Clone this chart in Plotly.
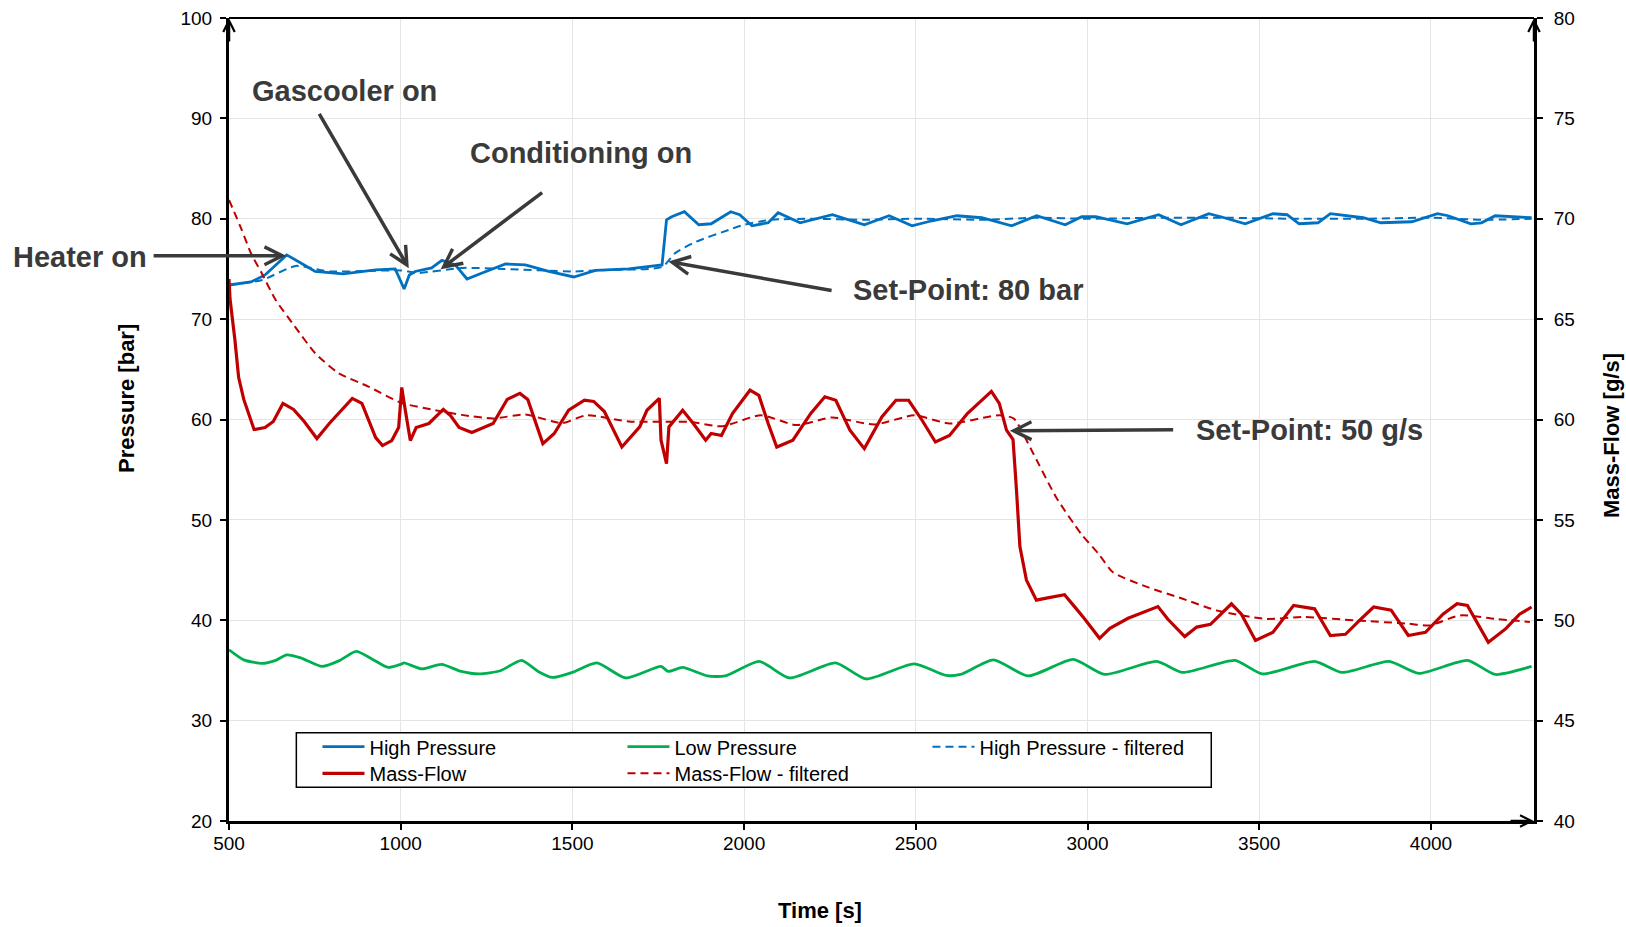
import plotly.graph_objects as go

# ---------------- data ----------------
hp_t = [500, 564, 605, 668, 719, 751, 832, 927, 984, 1010, 1025, 1042, 1090, 1120, 1159,
        1193, 1237, 1305, 1363, 1431, 1504, 1567, 1664, 1761, 1774, 1789, 1826, 1868, 1904,
        1961, 1987, 2023, 2070, 2099, 2163, 2257, 2350, 2422, 2489, 2547, 2620, 2692, 2779,
        2852, 2935, 2983, 3024, 3115, 3207, 3272, 3353, 3388, 3459, 3540, 3581, 3616, 3671,
        3707, 3803, 3854, 3944, 4019, 4050, 4116, 4147, 4187, 4293]
hp_v = [73.4, 73.7, 74.4, 76.4, 75.4, 74.75, 74.5, 74.9, 75.0, 73.0, 74.4, 74.75, 75.1, 75.85, 75.4,
        74.0, 74.6, 75.5, 75.4, 74.75, 74.2, 74.85, 75.0, 75.4, 79.9, 80.2, 80.7, 79.4, 79.5,
        80.7, 80.4, 79.3, 79.6, 80.6, 79.6, 80.4, 79.4, 80.3, 79.3, 79.8, 80.3, 80.1, 79.3,
        80.3, 79.4, 80.2, 80.2, 79.5, 80.4, 79.4, 80.5, 80.2, 79.5, 80.5, 80.4, 79.5, 79.6,
        80.5, 80.1, 79.6, 79.7, 80.5, 80.3, 79.5, 79.6, 80.3, 80.1]

hpf_t = [500, 597, 694, 791, 900, 1000, 1050, 1178, 1300, 1498, 1600, 1761, 1800, 1859, 1956,
         2000, 2080, 2200, 2350, 2500, 2700, 2850, 3000, 3200, 3400, 3600, 3800, 4000, 4150, 4293]
hpf_v = [73.4, 73.9, 75.3, 74.75, 74.8, 74.85, 74.6, 75.1, 75.0, 74.75, 74.9, 75.2, 76.6, 77.7, 78.9,
         79.4, 79.9, 80.0, 79.9, 80.0, 79.9, 80.1, 80.0, 80.1, 80.1, 80.0, 80.0, 80.1, 79.9, 80.0]

lp_t = [500, 543, 595, 636, 668, 709, 771, 823, 870, 916, 963, 1003, 1010, 1062, 1119, 1176,
        1228, 1290, 1352, 1400, 1442, 1499, 1571, 1655, 1758, 1779, 1821, 1893, 1945, 2044,
        2132, 2266, 2355, 2495, 2588, 2630, 2726, 2827, 2958, 3050, 3201, 3277, 3429, 3509,
        3661, 3741, 3878, 3964, 4106, 4187, 4293]
lp_v = [37.05, 36.05, 35.7, 36.0, 36.55, 36.25, 35.4, 36.0, 36.9, 36.15, 35.3, 35.65, 35.75, 35.15, 35.6, 34.9,
        34.65, 34.97, 36.0, 34.9, 34.3, 34.8, 35.75, 34.25, 35.4, 34.9, 35.3, 34.45, 34.45, 35.9,
        34.25, 35.75, 34.15, 35.65, 34.5, 34.6, 36.05, 34.45, 36.1, 34.6, 35.9, 34.8, 36.0, 34.65,
        35.9, 34.8, 35.9, 34.7, 36.0, 34.6, 35.4]

mf_t = [500, 503, 517, 528, 543, 564, 573, 605, 629, 657, 688, 719, 756, 792, 859, 887, 927,
        947, 974, 994, 1003, 1013, 1028, 1045, 1082, 1124, 1145, 1170, 1207, 1269, 1310, 1347,
        1370, 1414, 1447, 1489, 1535, 1562, 1593, 1644, 1696, 1717, 1753, 1758, 1774, 1781,
        1821, 1852, 1888, 1904, 1934, 1966, 2017, 2043, 2070, 2095, 2142, 2194, 2235, 2267,
        2308, 2350, 2401, 2442, 2479, 2515, 2557, 2598, 2650, 2720, 2743, 2764, 2783, 2793,
        2803, 2822, 2851, 2880, 2933, 2962, 2990, 3035, 3065, 3118, 3205, 3234, 3283, 3318,
        3358, 3419, 3448, 3489, 3540, 3600, 3661, 3707, 3751, 3792, 3833, 3884, 3934, 3984,
        4035, 4076, 4106, 4167, 4218, 4258, 4293]
mf_v = [67.0, 66.0, 64.0, 62.1, 61.0, 59.9, 59.5, 59.6, 59.9, 60.8, 60.5, 59.9, 59.05, 59.8, 61.05, 60.8, 59.1,
        58.7, 58.95, 59.6, 61.6, 60.5, 58.95, 59.6, 59.8, 60.5, 60.2, 59.6, 59.35, 59.8, 61.0, 61.3,
        61.0, 58.8, 59.3, 60.46, 60.96, 60.9, 60.4, 58.63, 59.63, 60.46, 61.05, 58.97, 57.8, 59.63,
        60.46, 59.8, 58.97, 59.3, 59.2, 60.3, 61.46, 61.2, 59.8, 58.63, 58.97, 60.3, 61.13, 60.96,
        59.47, 58.55, 60.13, 60.96, 60.96, 60.05, 58.88, 59.2, 60.3, 61.4, 60.8, 59.47, 59.0, 56.5,
        53.67, 52.0, 51.0, 51.1, 51.27, 50.68, 50.1, 49.1, 49.6, 50.1, 50.68, 50.05, 49.19, 49.66,
        49.8, 50.82, 50.3, 48.99, 49.4, 50.74, 50.57, 49.24, 49.3, 49.99, 50.66, 50.5, 49.24, 49.4,
        50.3, 50.82, 50.74, 48.9, 49.58, 50.3, 50.66]

mff_t = [500, 537, 564, 595, 636, 692, 751, 819, 906, 1003, 1090, 1178, 1269, 1362, 1470,
         1541, 1664, 1841, 1934, 2049, 2152, 2256, 2380, 2495, 2598, 2743, 2785, 2837, 2908,
         2981, 3032, 3074, 3175, 3277, 3378, 3519, 3629, 3781, 3934, 3994, 4085, 4187, 4288]
mff_v = [70.94, 69.45, 68.28, 67.3, 65.95, 64.63, 63.3, 62.31, 61.64, 60.82, 60.5, 60.23, 60.05, 60.25, 59.82,
         60.21, 59.9, 59.88, 59.66, 60.21, 59.72, 60.1, 59.75, 60.21, 59.8, 60.21, 60.05, 58.47, 56.14,
         54.31, 53.31, 52.39, 51.65, 51.07, 50.48, 50.07, 50.16, 49.99, 49.83, 49.74, 50.24, 50.07, 49.91]

x_ticks = [500, 1000, 1500, 2000, 2500, 3000, 3500, 4000]
y_left_ticks = [20, 30, 40, 50, 60, 70, 80, 90, 100]
y_right_ticks = [40, 45, 50, 55, 60, 65, 70, 75, 80]

BLUE = "#0070C0"
GREEN = "#00B050"
RED = "#C00000"
ANN = "#3a3a3a"
FONT = "Arial, Liberation Sans, sans-serif"

fig = go.Figure()
fig.add_trace(go.Scatter(x=hp_t, y=hp_v, name="High Pressure", mode="lines",
                         line=dict(color=BLUE, width=2.8), legend="legend"))
fig.add_trace(go.Scatter(x=lp_t, y=lp_v, name="Low Pressure", mode="lines",
                         line=dict(color=GREEN, width=2.8, shape="spline", smoothing=0.6), legend="legend"))
fig.add_trace(go.Scatter(x=hpf_t, y=hpf_v, name="High Pressure - filtered", mode="lines",
                         line=dict(color=BLUE, width=2, dash="8px,5px", shape="spline", smoothing=0.6),
                         legend="legend"))
fig.add_trace(go.Scatter(x=mf_t, y=mf_v, name="Mass-Flow", mode="lines", yaxis="y2",
                         line=dict(color=RED, width=3.2), legend="legend2"))
fig.add_trace(go.Scatter(x=mff_t, y=mff_v, name="Mass-Flow - filtered", mode="lines", yaxis="y2",
                         line=dict(color=RED, width=2, dash="8px,5px", shape="spline", smoothing=0.6),
                         legend="legend2"))

axis_common = dict(showline=True, linecolor="black", linewidth=3, ticks="outside",
                   ticklen=6, tickwidth=2, tickcolor="black", zeroline=False, automargin=False,
                   tickfont=dict(size=19, color="black", family=FONT))

legend_common = dict(orientation="h", xanchor="left", yanchor="middle",
                     bgcolor="rgba(0,0,0,0)", borderwidth=0, itemwidth=42,
                     entrywidth=248, entrywidthmode="pixels",
                     font=dict(size=20, color="black", family=FONT), traceorder="normal")

fig.update_layout(
    width=1626, height=927,
    margin=dict(l=229, r=92, t=18, b=106, autoexpand=False),
    paper_bgcolor="white", plot_bgcolor="white",
    font=dict(family=FONT, color="black"),
    xaxis=dict(range=[500, 4300], tickvals=x_ticks, showgrid=True, gridcolor="#e4e4e4",
               gridwidth=1.2, ticklabelstandoff=-3, **axis_common),
    yaxis=dict(range=[20, 100], tickvals=y_left_ticks, showgrid=True, gridcolor="#e4e4e4",
               gridwidth=1.2, ticklabelstandoff=4, **axis_common),
    yaxis2=dict(range=[40, 80], tickvals=y_right_ticks, overlaying="y", side="right",
                showgrid=False, ticklabelstandoff=7, **axis_common),
    legend=dict(x=0.0678, y=0.0925, **legend_common),
    legend2=dict(x=0.0678, y=0.0594, **legend_common),
    showlegend=True,
)

# legend frame and top border
fig.add_shape(type="rect", xref="paper", yref="paper", x0=0.0516, x1=0.7527, y0=0.042, y1=0.110,
              line=dict(color="black", width=1.5), fillcolor="white", layer="above")
fig.add_shape(type="line", xref="paper", yref="paper", x0=0, x1=1, y0=1, y1=1,
              line=dict(color="black", width=2))

annotations = []
title_font = dict(size=22, color="black", family=FONT, weight="bold")
# axis titles
annotations.append(dict(text="Pressure [bar]", xref="paper", yref="paper", x=-0.0782, y=0.5268,
                        xanchor="center", yanchor="middle", showarrow=False, textangle=-90,
                        font=title_font))
annotations.append(dict(text="Mass-Flow [g/s]", xref="paper", yref="paper", x=1.0598, y=0.4795,
                        xanchor="center", yanchor="middle", showarrow=False, textangle=-90,
                        font=title_font))
annotations.append(dict(text="Time [s]", xref="paper", yref="paper", x=0.4532, y=-0.1117,
                        xanchor="center", yanchor="middle", showarrow=False, font=title_font))

# axis arrows
for (ax_x, ax_y, dx, dy) in [(0, 1, 0, 25), (1, 1, 0, 25), (1, 0, -25, 0)]:
    annotations.append(dict(text="", xref="paper", yref="paper", x=ax_x, y=ax_y, ax=dx, ay=dy,
                            showarrow=True, arrowhead=5, arrowsize=0.9, arrowwidth=2.5,
                            arrowcolor="black"))

# event labels
labels = [("Heater on", -0.1142, 0.7027),
          ("Gascooler on", 0.0886, 0.9094),
          ("Conditioning on", 0.2699, 0.8315),
          ("Set-Point: 80 bar", 0.5663, 0.6613),
          ("Set-Point: 50 g/s", 0.8282, 0.4869)]
for txt, lx, ly in labels:
    annotations.append(dict(text=txt, xref="paper", yref="paper", x=lx, y=ly, showarrow=False,
                            xanchor="center", yanchor="middle",
                            font=dict(size=29, color=ANN, family=FONT, weight="bold")))

# event arrows (head -> tail in data coordinates)
event_arrows = [((666.4, 76.31), (276.1, 76.31)),
                ((1023.5, 75.08), (760.3, 90.59)),
                ((1116.2, 74.98), (1416.1, 82.72)),
                ((1779.3, 75.74), (2259.0, 72.82)),
                ((2773.6, 58.87), (3253.7, 58.97))]
for (hx, hy), (tx, ty) in event_arrows:
    annotations.append(dict(text="", xref="x", yref="y", axref="x", ayref="y",
                            x=hx, y=hy, ax=tx, ay=ty, showarrow=True, arrowhead=5,
                            arrowsize=1.0, arrowwidth=3.5, arrowcolor=ANN))

fig.update_layout(annotations=annotations)

fig.write_html("out.html")
